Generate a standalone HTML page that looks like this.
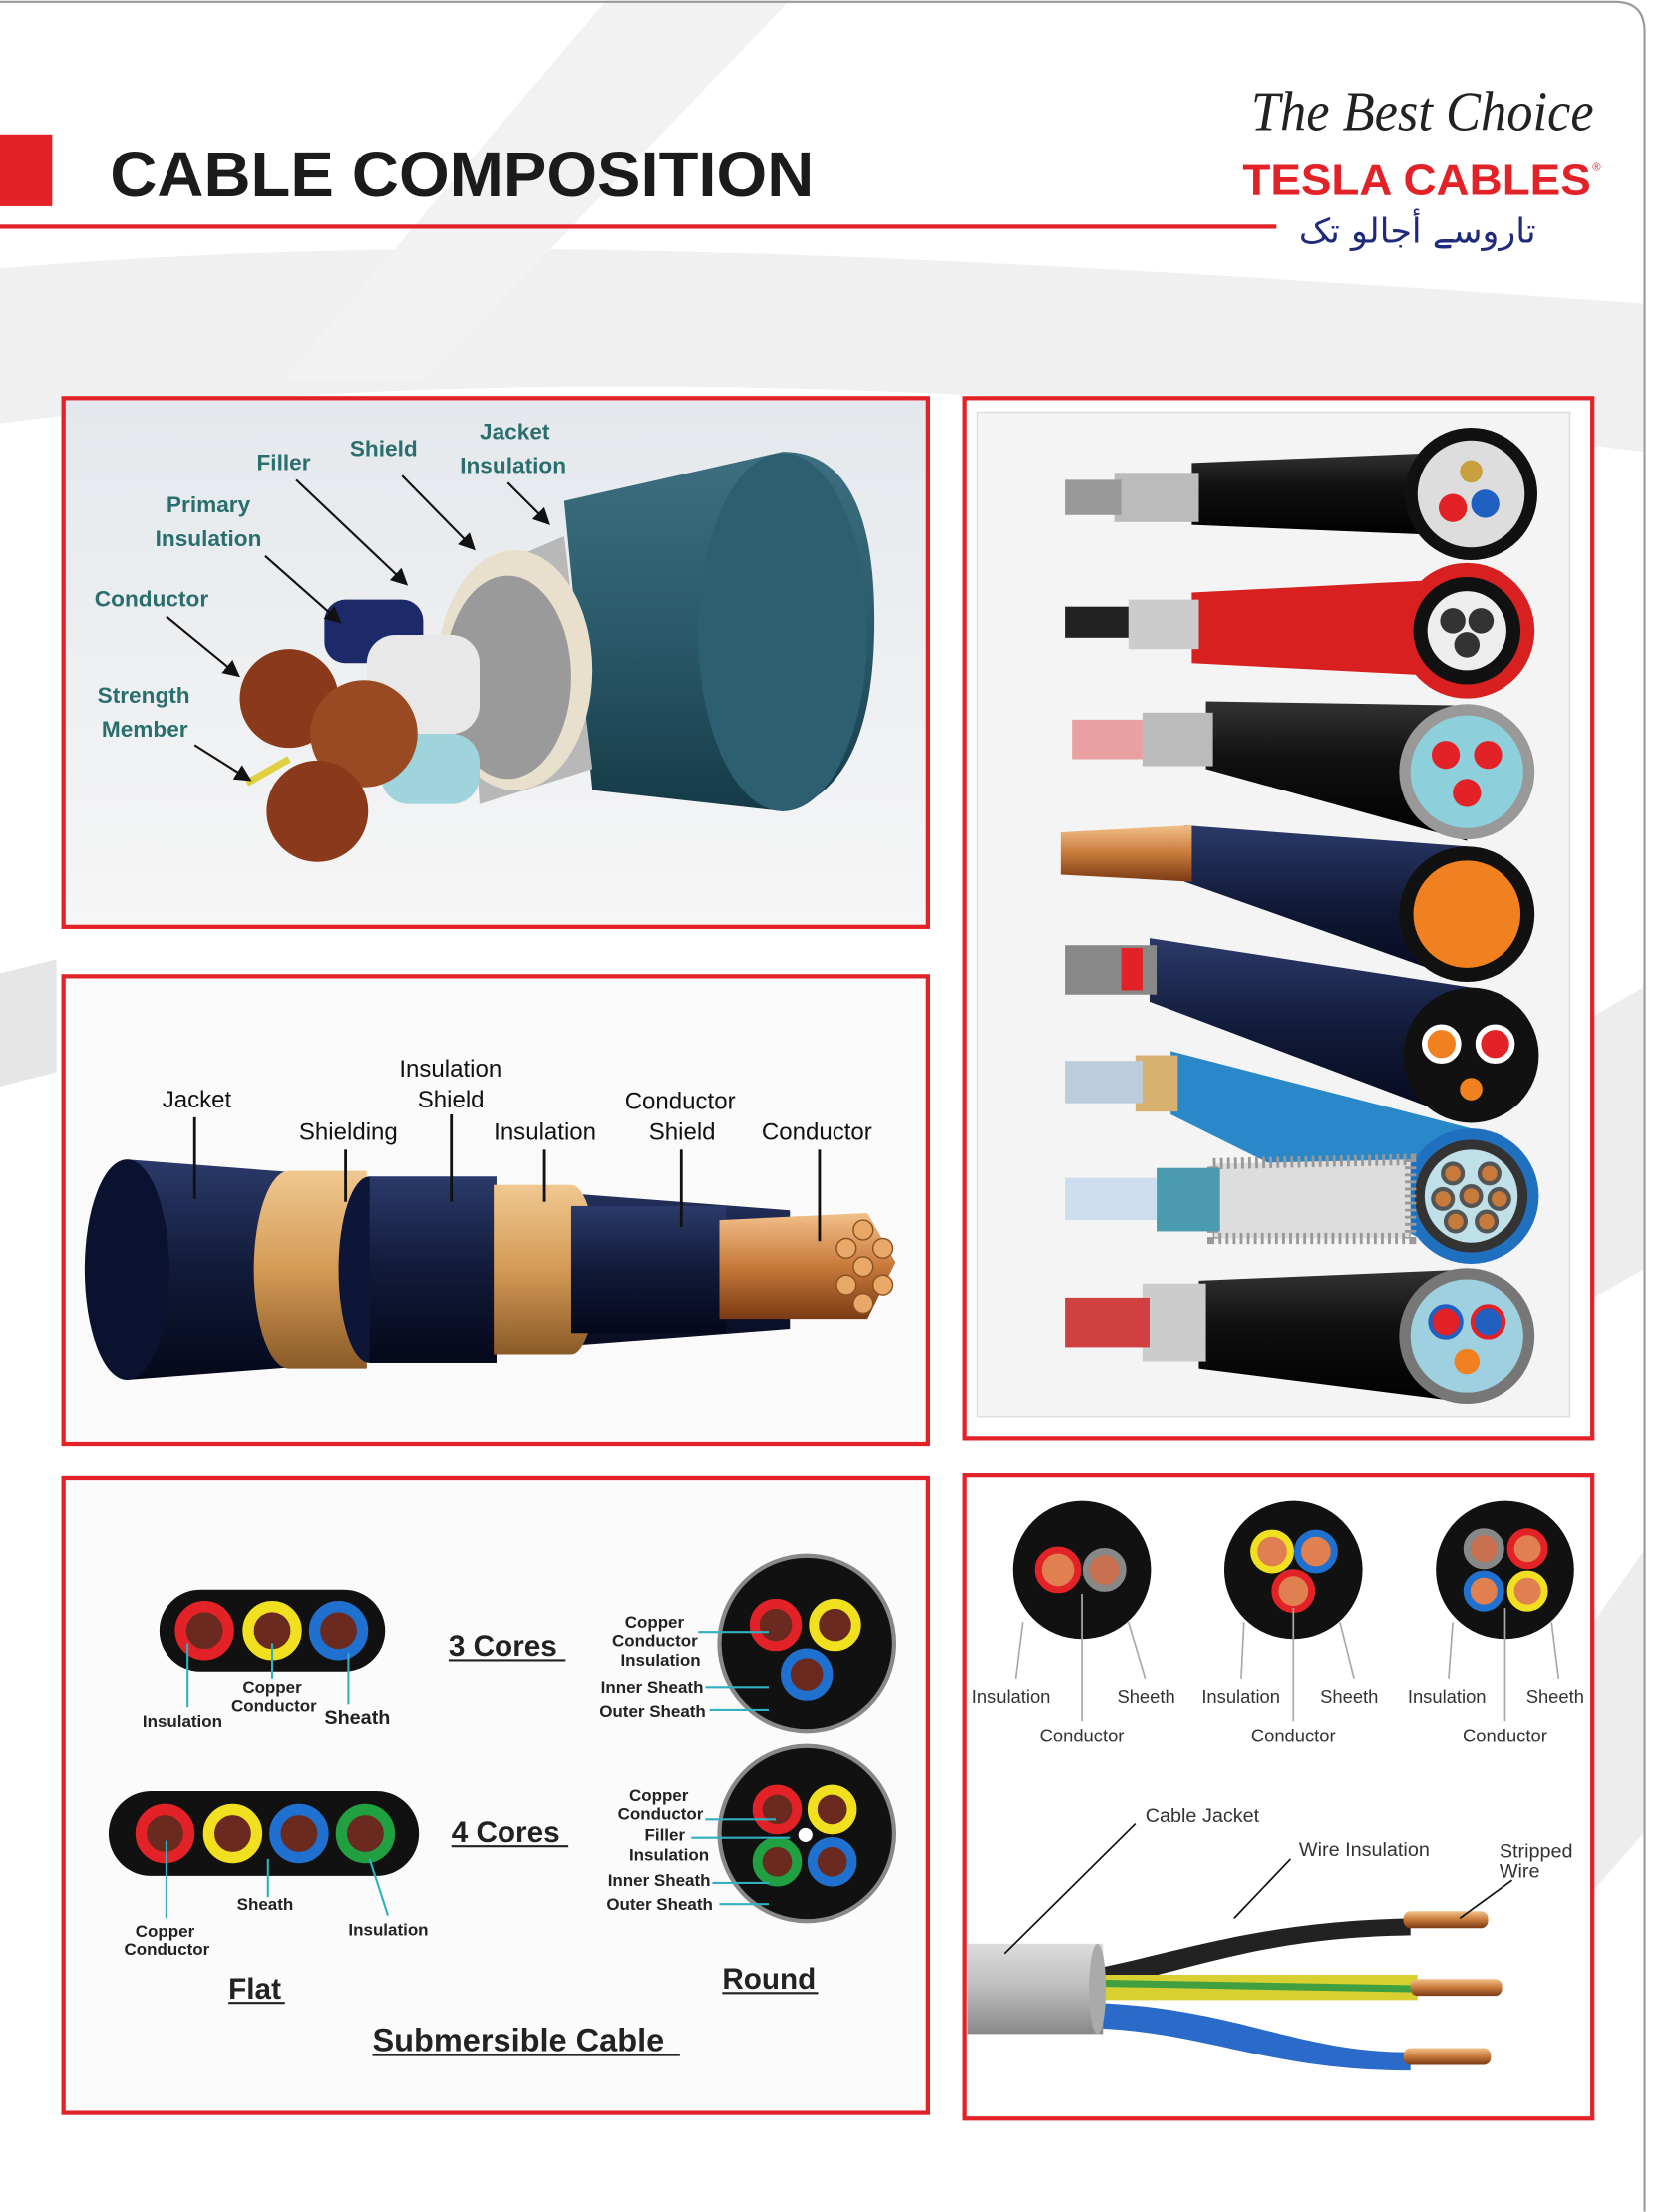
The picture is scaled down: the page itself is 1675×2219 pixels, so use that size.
<!DOCTYPE html>
<html><head><meta charset="utf-8"><style>
html,body{margin:0;padding:0;background:#fff}
svg{display:block}
</style></head><body>
<svg width="1675" height="2219" viewBox="0 0 1184 1568" xmlns="http://www.w3.org/2000/svg" font-family="Liberation Sans, sans-serif">
<defs>
<linearGradient id="bg1" x1="0" y1="0" x2="0" y2="1"><stop offset="0" stop-color="#e4e8ec"/><stop offset="1" stop-color="#f6f6f6"/></linearGradient>
<linearGradient id="teal" x1="0" y1="0" x2="0" y2="1"><stop offset="0" stop-color="#3d6f80"/><stop offset="0.5" stop-color="#2a5a6a"/><stop offset="1" stop-color="#163a48"/></linearGradient>
<linearGradient id="blk" x1="0" y1="0" x2="0" y2="1"><stop offset="0" stop-color="#333"/><stop offset="0.4" stop-color="#111"/><stop offset="1" stop-color="#000"/></linearGradient>
<linearGradient id="navy" x1="0" y1="0" x2="0" y2="1"><stop offset="0" stop-color="#2b3a6a"/><stop offset="0.5" stop-color="#111a38"/><stop offset="1" stop-color="#05081a"/></linearGradient>
<linearGradient id="tan" x1="0" y1="0" x2="0" y2="1"><stop offset="0" stop-color="#f0c890"/><stop offset="0.5" stop-color="#d49a55"/><stop offset="1" stop-color="#8a5a28"/></linearGradient>
<linearGradient id="cu" x1="0" y1="0" x2="0" y2="1"><stop offset="0" stop-color="#f2c08a"/><stop offset="0.5" stop-color="#c87a3a"/><stop offset="1" stop-color="#7a3a14"/></linearGradient>
<linearGradient id="gray" x1="0" y1="0" x2="0" y2="1"><stop offset="0" stop-color="#ddd"/><stop offset="0.5" stop-color="#bbb"/><stop offset="1" stop-color="#888"/></linearGradient>
<marker id="ar" markerWidth="8" markerHeight="8" refX="6" refY="4" orient="auto"><path d="M0,0 L8,4 L0,8 z" fill="#111"/></marker>
</defs>
<!-- background swooshes -->
<path d="M0,190 C300,165 600,175 1165,215 L1165,320 C700,265 300,260 0,300 Z" fill="#f0f0f0"/>
<path d="M430,0 L560,0 L300,270 L200,270 Z" fill="#f2f2f2"/>
<path d="M0,690 L40,680 L40,760 L0,770 Z" fill="#e6e6e6"/>
<path d="M1130,720 L1165,700 L1165,900 L1130,920 Z" fill="#ededed"/>
<path d="M1130,1150 L1165,1100 L1165,1300 L1130,1340 Z" fill="#ededed"/>
<!-- page border -->
<path d="M0,1 L1145,1 Q1166,1 1166,22 L1166,1568" fill="none" stroke="#999" stroke-width="1.5"/>
<!-- header -->
<rect x="0" y="95" width="37" height="51" fill="#e32228"/>
<text x="78" y="139" font-size="45" font-weight="bold" fill="#1b1b1b" textLength="499" lengthAdjust="spacingAndGlyphs">CABLE COMPOSITION</text>
<rect x="0" y="159" width="905" height="3" fill="#e32228"/>
<text x="887" y="92" font-size="40" font-style="italic" font-family="Liberation Serif, serif" fill="#222" textLength="243" lengthAdjust="spacingAndGlyphs">The Best Choice</text>
<text x="881" y="138" font-size="31" font-weight="bold" fill="#e32228" textLength="247" lengthAdjust="spacingAndGlyphs">TESLA CABLES</text>
<text x="1129" y="121" font-size="8" fill="#e32228">®</text>
<text x="1005" y="172" font-size="24" font-family="DejaVu Sans, sans-serif" fill="#1f2a7a" text-anchor="middle" textLength="168" lengthAdjust="spacingAndGlyphs">تاروسے أجالو تک</text>

<!-- PANEL 1 -->
<rect x="45" y="282" width="613" height="375" fill="url(#bg1)" stroke="#e32228" stroke-width="3"/>
<path d="M400,355 L555,320 Q620,320 620,440 Q620,560 555,575 L420,560 Z" fill="url(#teal)"/>
<ellipse cx="555" cy="448" rx="60" ry="127" fill="#2c6070"/>
<path d="M330,410 L400,380 L420,545 L340,570 Z" fill="#b8b8b8"/>
<ellipse cx="365" cy="475" rx="55" ry="85" fill="#e8e0cc"/>
<ellipse cx="360" cy="480" rx="45" ry="72" fill="#9a9a9a"/>
<rect x="230" y="425" width="70" height="45" rx="15" fill="#1d2a6a"/>
<rect x="260" y="450" width="80" height="70" rx="20" fill="#e8e8e8"/>
<rect x="270" y="520" width="70" height="50" rx="20" fill="#9fd4dc"/>
<circle cx="205" cy="495" r="35" fill="#8a3a1a"/>
<circle cx="258" cy="520" r="38" fill="#9a4a22"/>
<circle cx="225" cy="575" r="36" fill="#8a3a1a"/>
<path d="M175,555 L205,538" stroke="#e0d040" stroke-width="5"/>
<g font-size="16" font-weight="bold" fill="#2a6e6e">
<text x="340" y="311">Jacket</text><text x="326" y="335">Insulation</text>
<text x="248" y="323">Shield</text><text x="182" y="333">Filler</text>
<text x="118" y="363">Primary</text><text x="110" y="387">Insulation</text>
<text x="67" y="430">Conductor</text><text x="69" y="498">Strength</text><text x="72" y="522">Member</text>
</g>
<g stroke="#111" stroke-width="1.5" marker-end="url(#ar)">
<line x1="360" y1="342" x2="388" y2="370"/><line x1="285" y1="337" x2="335" y2="388"/>
<line x1="210" y1="340" x2="287" y2="413"/><line x1="188" y1="394" x2="240" y2="440"/>
<line x1="118" y1="437" x2="168" y2="478"/><line x1="138" y1="528" x2="176" y2="552"/>
</g>

<!-- PANEL 2 -->
<rect x="45" y="692" width="613" height="332" fill="#fafafa" stroke="#e32228" stroke-width="3"/>
<path d="M90,822 L560,858 L560,942 L90,978 Z" fill="url(#navy)"/>
<ellipse cx="90" cy="900" rx="30" ry="78" fill="#0a1230"/>
<ellipse cx="205" cy="900" rx="25" ry="70" fill="url(#tan)"/>
<rect x="205" y="830" width="55" height="140" fill="url(#tan)"/>
<ellipse cx="262" cy="900" rx="22" ry="66" fill="#0d1636"/>
<rect x="262" y="834" width="90" height="132" fill="url(#navy)"/>
<rect x="350" y="840" width="55" height="120" fill="url(#tan)"/>
<ellipse cx="405" cy="900" rx="18" ry="60" fill="url(#tan)"/>
<rect x="405" y="855" width="110" height="90" fill="url(#navy)"/>
<path d="M510,865 L615,860 L635,895 L615,935 L510,935 Z" fill="url(#cu)"/>
<g fill="#e8a868" stroke="#8a5020" stroke-width="1"><circle cx="612" cy="872" r="7"/><circle cx="626" cy="885" r="7"/><circle cx="612" cy="898" r="7"/><circle cx="626" cy="911" r="7"/><circle cx="612" cy="924" r="7"/><circle cx="600" cy="885" r="7"/><circle cx="600" cy="911" r="7"/></g>
<g font-size="17" fill="#111">
<text x="115" y="785">Jacket</text><text x="212" y="808">Shielding</text>
<text x="283" y="763">Insulation</text><text x="296" y="785">Shield</text>
<text x="350" y="808">Insulation</text><text x="443" y="786">Conductor</text>
<text x="460" y="808">Shield</text><text x="540" y="808">Conductor</text>
</g>
<g stroke="#111" stroke-width="2"><line x1="138" y1="792" x2="138" y2="850"/><line x1="245" y1="815" x2="245" y2="852"/><line x1="320" y1="790" x2="320" y2="852"/><line x1="386" y1="815" x2="386" y2="852"/><line x1="483" y1="815" x2="483" y2="870"/><line x1="581" y1="815" x2="581" y2="880"/></g>

<!-- PANEL 3 -->
<rect x="45" y="1048" width="613" height="450" fill="#fbfbfb" stroke="#e32228" stroke-width="3"/>
<rect x="113" y="1127" width="160" height="58" rx="29" fill="#111"/>
<g stroke-width="8"><circle cx="145" cy="1156" r="17" fill="#6a2a20" stroke="#e32228"/><circle cx="193" cy="1156" r="17" fill="#6a2a20" stroke="#f0e020"/><circle cx="240" cy="1156" r="17" fill="#6a2a20" stroke="#2070d0"/></g>
<rect x="77" y="1270" width="220" height="60" rx="30" fill="#111"/>
<g stroke-width="8"><circle cx="117" cy="1300" r="17" fill="#6a2a20" stroke="#e32228"/><circle cx="165" cy="1300" r="17" fill="#6a2a20" stroke="#f0e020"/><circle cx="212" cy="1300" r="17" fill="#6a2a20" stroke="#2070d0"/><circle cx="259" cy="1300" r="17" fill="#6a2a20" stroke="#20a040"/></g>
<circle cx="572" cy="1165" r="62" fill="#111" stroke="#888" stroke-width="3"/>
<g stroke-width="7"><circle cx="550" cy="1152" r="15" fill="#6a2a20" stroke="#e32228"/><circle cx="592" cy="1152" r="15" fill="#6a2a20" stroke="#f0e020"/><circle cx="572" cy="1187" r="15" fill="#6a2a20" stroke="#2070d0"/></g>
<circle cx="572" cy="1300" r="62" fill="#111" stroke="#888" stroke-width="3"/>
<g stroke-width="7"><circle cx="551" cy="1283" r="14" fill="#6a2a20" stroke="#e32228"/><circle cx="590" cy="1283" r="14" fill="#6a2a20" stroke="#f0e020"/><circle cx="551" cy="1320" r="14" fill="#6a2a20" stroke="#20a040"/><circle cx="590" cy="1320" r="14" fill="#6a2a20" stroke="#2070d0"/></g>
<circle cx="571" cy="1301" r="5" fill="#fff"/>
<g stroke="#30b0c0" stroke-width="1.5"><line x1="133" y1="1210" x2="133" y2="1165"/><line x1="193" y1="1190" x2="193" y2="1165"/><line x1="247" y1="1208" x2="247" y2="1172"/><line x1="118" y1="1360" x2="118" y2="1305"/><line x1="190" y1="1345" x2="190" y2="1318"/><line x1="275" y1="1358" x2="262" y2="1318"/>
<line x1="495" y1="1157" x2="545" y2="1157"/><line x1="500" y1="1196" x2="545" y2="1196"/><line x1="503" y1="1212" x2="545" y2="1212"/><line x1="500" y1="1290" x2="550" y2="1290"/><line x1="490" y1="1303" x2="560" y2="1303"/><line x1="505" y1="1335" x2="545" y2="1335"/><line x1="510" y1="1350" x2="545" y2="1350"/></g>
<g font-size="12" font-weight="bold" fill="#222">
<text x="101" y="1224">Insulation</text><text x="172" y="1200">Copper</text><text x="164" y="1213">Conductor</text><text x="230" y="1222" font-size="14">Sheath</text>
<text x="443" y="1154">Copper</text><text x="434" y="1167">Conductor</text><text x="440" y="1181">Insulation</text><text x="426" y="1200">Inner Sheath</text><text x="425" y="1217">Outer Sheath</text>
<text x="446" y="1277">Copper</text><text x="438" y="1290">Conductor</text><text x="457" y="1305">Filler</text><text x="446" y="1319">Insulation</text><text x="431" y="1337">Inner Sheath</text><text x="430" y="1354">Outer Sheath</text>
<text x="168" y="1354">Sheath</text><text x="247" y="1372">Insulation</text><text x="96" y="1373">Copper</text><text x="88" y="1386">Conductor</text>
</g>
<g font-weight="bold" fill="#222">
<text x="318" y="1174" font-size="21">3 Cores</text><text x="320" y="1306" font-size="21">4 Cores</text>
<text x="162" y="1417" font-size="21">Flat</text><text x="512" y="1410" font-size="21">Round</text>
<text x="264" y="1454" font-size="23">Submersible Cable</text>
</g>
<g stroke="#222" stroke-width="1.5"><line x1="318" y1="1177" x2="401" y2="1177"/><line x1="320" y1="1309" x2="403" y2="1309"/><line x1="162" y1="1420" x2="202" y2="1420"/><line x1="512" y1="1413" x2="580" y2="1413"/><line x1="264" y1="1457" x2="482" y2="1457"/></g>

<!-- PANEL 4 -->
<rect x="684" y="282" width="445" height="738" fill="#fff" stroke="#e32228" stroke-width="3"/>
<rect x="693" y="292" width="420" height="712" fill="#f4f4f4" stroke="#ddd"/>
<g>
<path d="M845,328 L1040,320 L1040,380 L845,372 Z" fill="url(#blk)"/><rect x="790" y="335" width="60" height="35" fill="#bbb"/><rect x="755" y="340" width="40" height="25" fill="#999"/>
<circle cx="1043" cy="350" r="47" fill="#111"/><circle cx="1043" cy="350" r="38" fill="#ddd"/><circle cx="1030" cy="360" r="10" fill="#e32228"/><circle cx="1053" cy="357" r="10" fill="#2060c0"/><circle cx="1043" cy="334" r="8" fill="#c8a040"/>
<path d="M845,420 L1040,410 L1040,480 L845,470 Z" fill="#d82020"/><rect x="800" y="425" width="50" height="35" fill="#ccc"/><rect x="755" y="430" width="45" height="22" fill="#222"/>
<circle cx="1040" cy="447" r="48" fill="#d82020"/><circle cx="1040" cy="447" r="38" fill="#111"/><circle cx="1040" cy="447" r="28" fill="#eee"/><circle cx="1030" cy="440" r="9" fill="#333"/><circle cx="1050" cy="440" r="9" fill="#333"/><circle cx="1040" cy="457" r="9" fill="#333"/>
<path d="M855,497 L1040,500 L1040,596 L855,545 Z" fill="url(#blk)"/><rect x="810" y="505" width="50" height="38" fill="#bbb"/><rect x="760" y="510" width="50" height="28" fill="#e8a0a0"/>
<circle cx="1040" cy="547" r="48" fill="#999"/><circle cx="1040" cy="547" r="40" fill="#8ecfdc"/><circle cx="1025" cy="535" r="10" fill="#e32228"/><circle cx="1055" cy="535" r="10" fill="#e32228"/><circle cx="1040" cy="562" r="10" fill="#e32228"/>
<path d="M840,585 L1040,600 L1040,696 L840,625 Z" fill="url(#navy)"/><path d="M752,590 L845,585 L845,625 L752,620 Z" fill="url(#cu)"/>
<circle cx="1040" cy="648" r="48" fill="#111"/><circle cx="1040" cy="648" r="38" fill="#f08020"/>
<path d="M815,665 L1043,700 L1043,796 L815,710 Z" fill="url(#navy)"/><rect x="755" y="670" width="65" height="35" fill="#888"/><rect x="795" y="672" width="15" height="30" fill="#e32228"/>
<circle cx="1043" cy="748" r="48" fill="#111"/><circle cx="1022" cy="740" r="12" fill="#f08020" stroke="#fff" stroke-width="4"/><circle cx="1060" cy="740" r="12" fill="#e32228" stroke="#fff" stroke-width="4"/><circle cx="1043" cy="772" r="10" fill="#f08020" stroke="#111" stroke-width="4"/>
<path d="M830,745 L1043,800 L1043,896 L830,790 Z" fill="#2a88c8"/><rect x="805" y="748" width="30" height="40" fill="#d8b070"/><rect x="755" y="752" width="55" height="30" fill="#bcd"/>
<circle cx="1043" cy="848" r="48" fill="#2070c0"/><circle cx="1043" cy="848" r="40" fill="#333"/><circle cx="1043" cy="848" r="33" fill="#bfe0e8"/>
<g fill="#c87a3a" stroke="#555" stroke-width="3"><circle cx="1030" cy="832" r="7"/><circle cx="1056" cy="832" r="7"/><circle cx="1023" cy="850" r="7"/><circle cx="1043" cy="848" r="7"/><circle cx="1063" cy="850" r="7"/><circle cx="1032" cy="866" r="7"/><circle cx="1054" cy="866" r="7"/></g>
<path d="M860,825 L1000,822 L1000,878 L860,878 Z" fill="#ddd"/><path d="M860,825 L1000,822 L1000,878 L860,878 Z" fill="none" stroke="#999" stroke-dasharray="2,3" stroke-width="8"/><rect x="820" y="828" width="45" height="45" fill="#4a9ab0"/><rect x="755" y="835" width="65" height="30" fill="#cde"/>
<path d="M850,908 L1040,900 L1040,994 L850,970 Z" fill="url(#blk)"/><rect x="810" y="910" width="45" height="55" fill="#ccc"/><rect x="755" y="920" width="60" height="35" fill="#d04040"/>
<circle cx="1040" cy="947" r="48" fill="#777"/><circle cx="1040" cy="947" r="40" fill="#9fd0e0"/><circle cx="1025" cy="937" r="11" fill="#e32228" stroke="#2060c0" stroke-width="3"/><circle cx="1055" cy="937" r="11" fill="#2060c0" stroke="#e32228" stroke-width="3"/><circle cx="1040" cy="965" r="9" fill="#f08020"/>
</g>

<!-- PANEL 5 -->
<rect x="684" y="1046" width="445" height="456" fill="#fff" stroke="#e32228" stroke-width="3"/>
<g><circle cx="767" cy="1113" r="49" fill="#111"/><circle cx="750" cy="1113" r="14" fill="#e08050" stroke="#e32228" stroke-width="5"/><circle cx="783" cy="1113" r="13" fill="#c87050" stroke="#888" stroke-width="5"/>
<circle cx="917" cy="1113" r="49" fill="#111"/><circle cx="902" cy="1100" r="13" fill="#e08050" stroke="#f0e020" stroke-width="5"/><circle cx="933" cy="1100" r="13" fill="#e08050" stroke="#2070d0" stroke-width="5"/><circle cx="917" cy="1128" r="13" fill="#e08050" stroke="#e32228" stroke-width="5"/>
<circle cx="1067" cy="1113" r="49" fill="#111"/><circle cx="1052" cy="1098" r="12" fill="#c87050" stroke="#888" stroke-width="5"/><circle cx="1083" cy="1098" r="12" fill="#e08050" stroke="#e32228" stroke-width="5"/><circle cx="1052" cy="1128" r="12" fill="#e08050" stroke="#2070d0" stroke-width="5"/><circle cx="1083" cy="1128" r="12" fill="#e08050" stroke="#f0e020" stroke-width="5"/></g>
<g stroke="#aaa" stroke-width="1.2" fill="none"><path d="M720,1190 L725,1150"/><path d="M767,1220 L767,1130"/><path d="M812,1190 L800,1150"/><path d="M880,1190 L882,1150"/><path d="M917,1220 L917,1140"/><path d="M960,1190 L950,1150"/><path d="M1027,1190 L1030,1150"/><path d="M1067,1220 L1067,1140"/><path d="M1105,1190 L1100,1150"/></g>
<g font-size="13" fill="#333"><text x="689" y="1207">Insulation</text><text x="792" y="1207">Sheeth</text><text x="737" y="1235">Conductor</text>
<text x="852" y="1207">Insulation</text><text x="936" y="1207">Sheeth</text><text x="887" y="1235">Conductor</text>
<text x="998" y="1207">Insulation</text><text x="1082" y="1207">Sheeth</text><text x="1037" y="1235">Conductor</text>
<text x="812" y="1292" font-size="14">Cable Jacket</text><text x="921" y="1316" font-size="14">Wire Insulation</text><text x="1063" y="1317" font-size="14">Stripped</text><text x="1063" y="1331" font-size="14">Wire</text></g>
<path d="M780,1395 C850,1380 900,1362 1000,1360 L1000,1372 C900,1374 860,1392 780,1410 Z" fill="#222"/>
<rect x="995" y="1355" width="60" height="12" rx="5" fill="url(#cu)"/>
<path d="M780,1400 L1005,1400 L1005,1418 L780,1418 Z" fill="#d8d030"/><path d="M780,1406 L1005,1410" stroke="#40a040" stroke-width="5"/>
<rect x="1000" y="1403" width="65" height="12" rx="5" fill="url(#cu)"/>
<path d="M780,1420 C880,1425 920,1455 1000,1455 L1000,1468 C900,1468 860,1442 780,1438 Z" fill="#2a6ac8"/>
<rect x="995" y="1452" width="62" height="12" rx="5" fill="url(#cu)"/>
<rect x="686" y="1378" width="96" height="64" fill="url(#gray)"/><ellipse cx="778" cy="1410" rx="6" ry="32" fill="#aaa"/>
<g stroke="#111" stroke-width="1.2"><line x1="805" y1="1293" x2="712" y2="1385"/><line x1="915" y1="1318" x2="875" y2="1360"/><line x1="1072" y1="1333" x2="1035" y2="1360"/></g>
</svg>
</body></html>
